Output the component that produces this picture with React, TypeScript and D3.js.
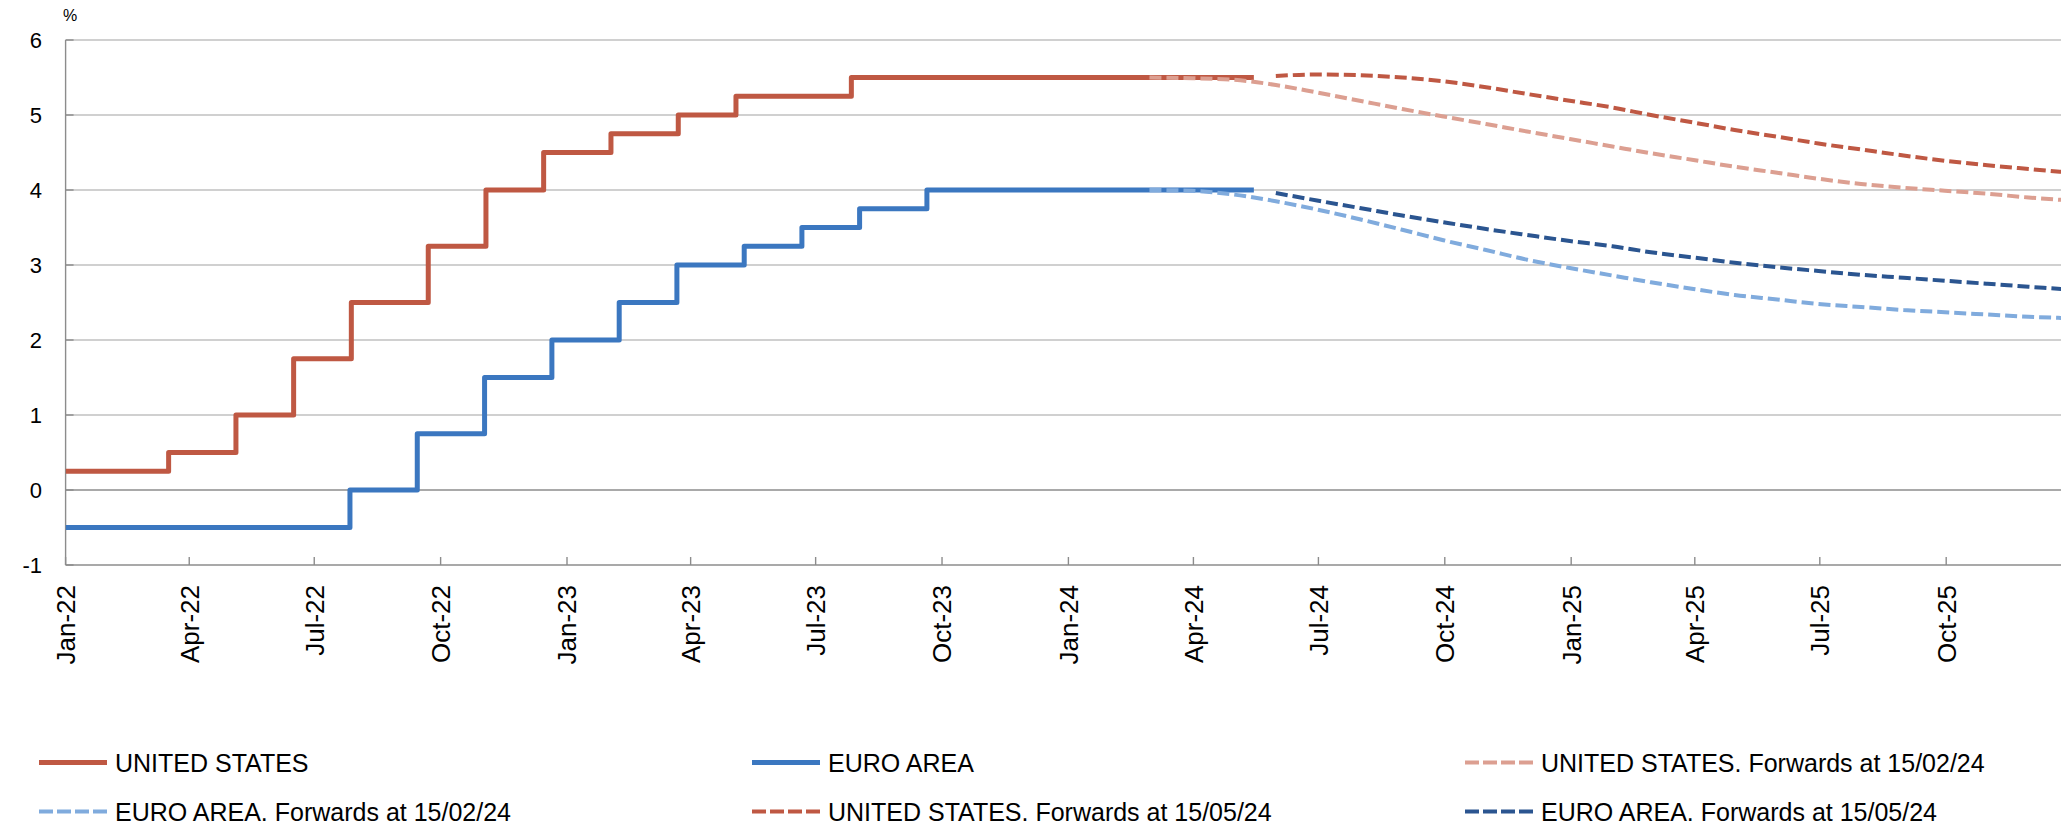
import React from "react";
import * as d3 from "d3";

const W = 2061;
const H = 828;

// Policy rate change dates (step data)
const usDates = ["2022-01-01","2022-03-17","2022-05-05","2022-06-16","2022-07-28","2022-09-22","2022-11-03","2022-12-15","2023-02-02","2023-03-23","2023-05-04","2023-07-27","2024-05-15"];
const usValues = [0.25,0.5,1.0,1.75,2.5,3.25,4.0,4.5,4.75,5.0,5.25,5.5,5.5];

const eaDates = ["2022-01-01","2022-07-27","2022-09-14","2022-11-02","2022-12-21","2023-02-08","2023-03-22","2023-05-10","2023-06-21","2023-08-02","2023-09-20","2024-05-15"];
const eaValues = [-0.5,0.0,0.75,1.5,2.0,2.5,3.0,3.25,3.5,3.75,4.0,4.0];

// Forward curves
const fwdFebDates = ["2024-02-29","2024-03-31","2024-04-30","2024-05-31","2024-06-30","2024-07-31","2024-08-31","2024-09-30","2024-10-31","2024-11-30","2024-12-31","2025-01-31","2025-02-28","2025-03-31","2025-04-30","2025-05-31","2025-06-30","2025-07-31","2025-08-31","2025-09-30","2025-10-31","2025-11-30","2025-12-31"];
const usFwdFeb = [5.50,5.49,5.47,5.40,5.30,5.19,5.08,4.98,4.88,4.78,4.68,4.58,4.49,4.40,4.31,4.23,4.15,4.08,4.03,3.99,3.95,3.90,3.86];
const eaFwdFeb = [4.00,3.99,3.94,3.85,3.74,3.61,3.47,3.33,3.20,3.07,2.96,2.86,2.77,2.68,2.60,2.54,2.48,2.44,2.40,2.37,2.34,2.31,2.29];

const fwdMayDates = ["2024-05-31","2024-06-30","2024-07-31","2024-08-31","2024-09-30","2024-10-31","2024-11-30","2024-12-31","2025-01-31","2025-02-28","2025-03-31","2025-04-30","2025-05-31","2025-06-30","2025-07-31","2025-08-31","2025-09-30","2025-10-31","2025-11-30","2025-12-31"];
const usFwdMay = [5.52,5.54,5.53,5.50,5.45,5.37,5.28,5.19,5.10,5.00,4.90,4.80,4.71,4.62,4.54,4.46,4.39,4.33,4.28,4.23];
const eaFwdMay = [3.96,3.86,3.76,3.66,3.57,3.48,3.40,3.32,3.25,3.17,3.10,3.03,2.97,2.92,2.87,2.83,2.79,2.75,2.71,2.67];

const yTicks = [-1,0,1,2,3,4,5,6];
const xTickLabels = ["Jan-22","Apr-22","Jul-22","Oct-22","Jan-23","Apr-23","Jul-23","Oct-23","Jan-24","Apr-24","Jul-24","Oct-24","Jan-25","Apr-25","Jul-25","Oct-25"];
const xTickDates = ["2022-01-01","2022-04-01","2022-07-01","2022-10-01","2023-01-01","2023-04-01","2023-07-01","2023-10-01","2024-01-01","2024-04-01","2024-07-01","2024-10-01","2025-01-01","2025-04-01","2025-07-01","2025-10-01"];

const C = {
  us: "#BF5843",
  ea: "#3B77C0",
  usFeb: "#DC9F91",
  eaFeb: "#80ABDD",
  usMay: "#BF5843",
  eaMay: "#2B5590",
};

const parse = (s: string) => new Date(s + "T00:00:00Z");

export default function App() {
  const left = 65.6;
  const x = d3.scaleUtc().domain([parse("2022-01-01"), parse("2026-01-01")]).range([left, left + 1461 * 1.3737]);
  const y = d3.scaleLinear().domain([-1, 6]).range([565, 40]);
  const plotRight = W;

  const stepLine = d3.line<[Date, number]>().x(d => x(d[0])).y(d => y(d[1])).curve(d3.curveStepAfter);
  const smooth = d3.line<[Date, number]>().x(d => x(d[0])).y(d => y(d[1])).curve(d3.curveMonotoneX);

  const zip = (ds: string[], vs: number[]) => ds.map((d, i) => [parse(d), vs[i]] as [Date, number]);

  const font = "'Liberation Sans', Arial, Helvetica, sans-serif";

  const legend = [
    { label: "UNITED STATES", color: C.us, dash: null, col: 0, row: 0 },
    { label: "EURO AREA", color: C.ea, dash: null, col: 1, row: 0 },
    { label: "UNITED STATES. Forwards at 15/02/24", color: C.usFeb, dash: "14 4", col: 2, row: 0 },
    { label: "EURO AREA. Forwards at 15/02/24", color: C.eaFeb, dash: "14 4", col: 0, row: 1 },
    { label: "UNITED STATES. Forwards at 15/05/24", color: C.usMay, dash: "14 4", col: 1, row: 1 },
    { label: "EURO AREA. Forwards at 15/05/24", color: C.eaMay, dash: "14 4", col: 2, row: 1 },
  ];
  const legX = [39, 752, 1465];
  const legY = [762.5, 811.5];

  return (
    <svg width={W} height={H} style={{ position: "absolute", left: 0, top: 0, background: "#fff" }} fontFamily={font}>
      <defs>
        <clipPath id="plot">
          <rect x={left} y={0} width={plotRight - left} height={600} />
        </clipPath>
      </defs>
      {yTicks.filter(t => t > -1).map(t => (
        <line key={t} x1={left} x2={plotRight} y1={y(t)} y2={y(t)} stroke={t === 0 ? "#8C8C8C" : "#C0C0C0"} strokeWidth={1.4} />
      ))}
      <line x1={left} x2={plotRight} y1={y(-1)} y2={y(-1)} stroke="#8C8C8C" strokeWidth={1.6} />
      <line x1={left} x2={left} y1={y(6)} y2={y(-1)} stroke="#8C8C8C" strokeWidth={1.4} />
      {yTicks.map(t => (
        <line key={"yt" + t} x1={left} x2={left + 8} y1={y(t)} y2={y(t)} stroke="#8C8C8C" strokeWidth={1.4} />
      ))}
      {xTickDates.map((d, i) => (
        <line key={"xt" + i} x1={x(parse(d))} x2={x(parse(d))} y1={y(-1)} y2={y(-1) - 8} stroke="#8C8C8C" strokeWidth={1.4} />
      ))}
      {yTicks.map(t => (
        <text key={"yl" + t} x={42} y={y(t)} dy="0.36em" textAnchor="end" fontSize={22} fill="#000">{t}</text>
      ))}
      <text x={63} y={21} fontSize={16} fill="#000">%</text>
      {xTickDates.map((d, i) => (
        <text key={"xl" + i} transform={`translate(${x(parse(d))},585) rotate(-90)`} dy="0.36em" textAnchor="end" fontSize={26} fill="#000">{xTickLabels[i]}</text>
      ))}
      <g clipPath="url(#plot)" fill="none">
        <path d={stepLine(zip(usDates, usValues)) || ""} stroke={C.us} strokeWidth={5} strokeLinejoin="round" />
        <path d={stepLine(zip(eaDates, eaValues)) || ""} stroke={C.ea} strokeWidth={5} strokeLinejoin="round" />
        <path d={smooth(zip(fwdFebDates, usFwdFeb)) || ""} stroke={C.usFeb} strokeWidth={4} strokeDasharray="12 5" />
        <path d={smooth(zip(fwdFebDates, eaFwdFeb)) || ""} stroke={C.eaFeb} strokeWidth={4} strokeDasharray="12 5" />
        <path d={smooth(zip(fwdMayDates, usFwdMay)) || ""} stroke={C.usMay} strokeWidth={4} strokeDasharray="12 5" />
        <path d={smooth(zip(fwdMayDates, eaFwdMay)) || ""} stroke={C.eaMay} strokeWidth={4} strokeDasharray="12 5" />
      </g>
      {legend.map((l, i) => (
        <g key={"lg" + i}>
          <line x1={legX[l.col]} x2={legX[l.col] + 68} y1={legY[l.row]} y2={legY[l.row]} stroke={l.color} strokeWidth={l.dash ? 4 : 5} strokeDasharray={l.dash || undefined} />
          <text x={legX[l.col] + 76} y={legY[l.row]} dy="0.36em" fontSize={25} fill="#000">{l.label}</text>
        </g>
      ))}
    </svg>
  );
}
